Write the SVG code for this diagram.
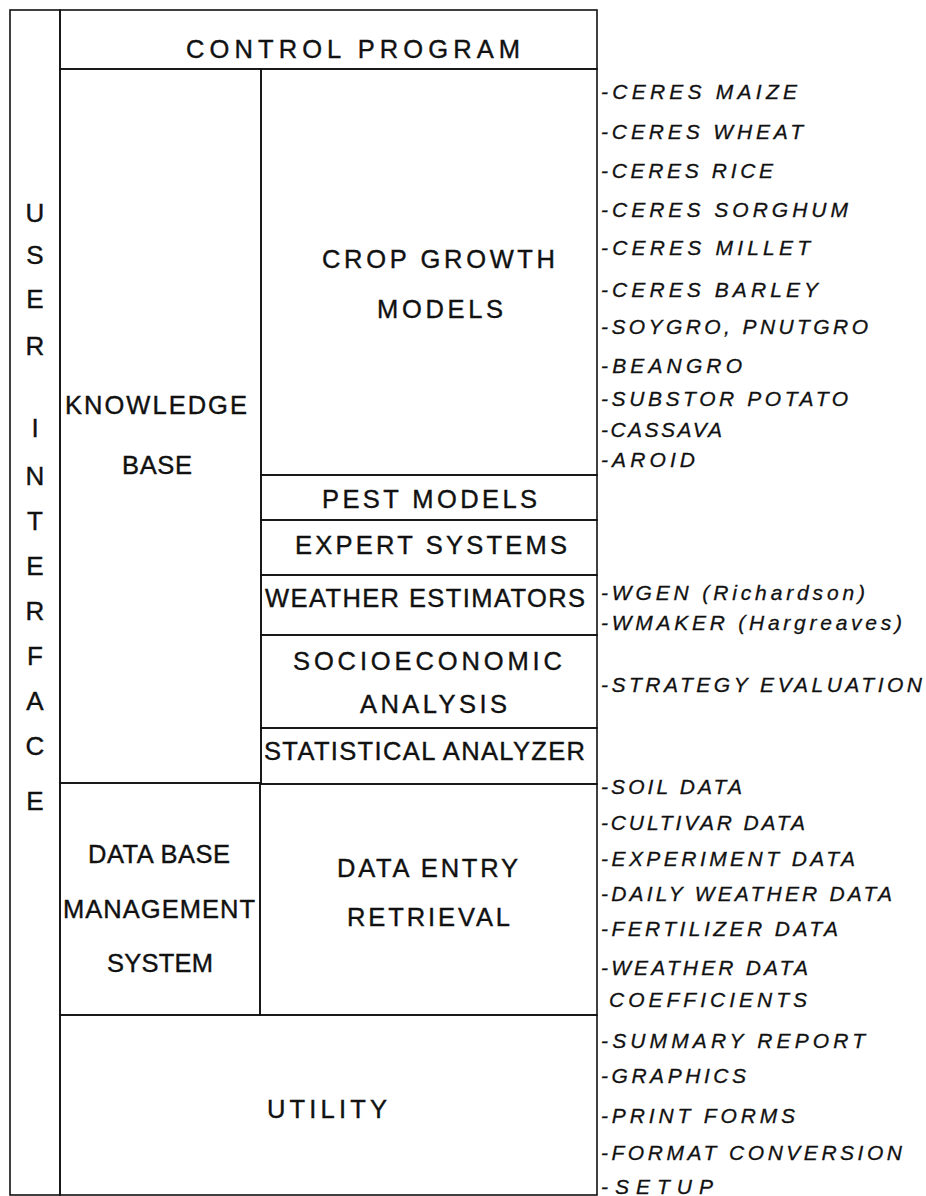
<svg xmlns="http://www.w3.org/2000/svg" width="926" height="1196" viewBox="0 0 926 1196">
<style>
.box{fill:none;stroke:#111;stroke-width:1.6}
.m{font-family:"Liberation Sans",Arial,sans-serif;font-size:25.5px;fill:#111;stroke:#111;stroke-width:0.4}
.ui{font-family:"Liberation Sans",Arial,sans-serif;font-size:26px;fill:#111;stroke:#111;stroke-width:0.4;text-anchor:middle}
.r{font-family:"Liberation Sans",Arial,sans-serif;font-size:21px;font-style:italic;fill:#111;stroke:#111;stroke-width:0.3}
</style>
<rect width="926" height="1196" fill="#fff"/>
<g id="user-interface">
<rect class="box" x="10" y="10" width="50" height="1185"/>
<text class="ui" x="35" y="222">U</text>
<text class="ui" x="35" y="264">S</text>
<text class="ui" x="35" y="308">E</text>
<text class="ui" x="35" y="355">R</text>
<text class="ui" x="35" y="437">I</text>
<text class="ui" x="35" y="485">N</text>
<text class="ui" x="35" y="530">T</text>
<text class="ui" x="35" y="575">E</text>
<text class="ui" x="35" y="620">R</text>
<text class="ui" x="35" y="665">F</text>
<text class="ui" x="35" y="710">A</text>
<text class="ui" x="35" y="755">C</text>
<text class="ui" x="35" y="810">E</text>
</g>
<g id="control-program">
<rect class="box" x="60" y="10" width="537" height="59"/>
<text class="m" x="186" y="58" textLength="334" lengthAdjust="spacing">CONTROL PROGRAM</text>
</g>
<g id="knowledge-base">
<rect class="box" x="60" y="69" width="201" height="714"/>
<text class="m" x="65" y="414" textLength="182" lengthAdjust="spacing">KNOWLEDGE</text>
<text class="m" x="122" y="474" textLength="70" lengthAdjust="spacing">BASE</text>
</g>
<g id="crop-growth-models">
<rect class="box" x="261" y="69" width="336" height="406"/>
<text class="m" x="322" y="268" textLength="233" lengthAdjust="spacing">CROP GROWTH</text>
<text class="m" x="377" y="318" textLength="126" lengthAdjust="spacing">MODELS</text>
<text class="r" x="601" y="99" textLength="196" lengthAdjust="spacing">-CERES MAIZE</text>
<text class="r" x="601" y="139" textLength="202" lengthAdjust="spacing">-CERES WHEAT</text>
<text class="r" x="601" y="178" textLength="172" lengthAdjust="spacing">-CERES RICE</text>
<text class="r" x="601" y="217" textLength="247" lengthAdjust="spacing">-CERES SORGHUM</text>
<text class="r" x="601" y="255" textLength="209" lengthAdjust="spacing">-CERES MILLET</text>
<text class="r" x="601" y="297" textLength="217" lengthAdjust="spacing">-CERES BARLEY</text>
<text class="r" x="601" y="334" textLength="267" lengthAdjust="spacing">-SOYGRO, PNUTGRO</text>
<text class="r" x="601" y="373" textLength="141" lengthAdjust="spacing">-BEANGRO</text>
<text class="r" x="601" y="406" textLength="247" lengthAdjust="spacing">-SUBSTOR POTATO</text>
<text class="r" x="601" y="437" textLength="121" lengthAdjust="spacing">-CASSAVA</text>
<text class="r" x="601" y="467" textLength="94" lengthAdjust="spacing">-AROID</text>
</g>
<g id="pest-models">
<rect class="box" x="261" y="475" width="336" height="45"/>
<text class="m" x="322" y="508" textLength="215" lengthAdjust="spacing">PEST MODELS</text>
</g>
<g id="expert-systems">
<rect class="box" x="261" y="520" width="336" height="55"/>
<text class="m" x="295" y="554" textLength="272" lengthAdjust="spacing">EXPERT SYSTEMS</text>
</g>
<g id="weather-estimators">
<rect class="box" x="261" y="575" width="336" height="60"/>
<text class="m" x="265" y="607" textLength="320" lengthAdjust="spacing">WEATHER ESTIMATORS</text>
<text class="r" x="601" y="600" textLength="264" lengthAdjust="spacing">-WGEN (Richardson)</text>
<text class="r" x="601" y="630" textLength="301" lengthAdjust="spacing">-WMAKER (Hargreaves)</text>
</g>
<g id="socioeconomic-analysis">
<rect class="box" x="261" y="635" width="336" height="93"/>
<text class="m" x="293" y="670" textLength="269" lengthAdjust="spacing">SOCIOECONOMIC</text>
<text class="m" x="360" y="713" textLength="147" lengthAdjust="spacing">ANALYSIS</text>
<text class="r" x="601" y="692" textLength="321" lengthAdjust="spacing">-STRATEGY EVALUATION</text>
</g>
<g id="statistical-analyzer">
<rect class="box" x="261" y="728" width="336" height="56"/>
<text class="m" x="264" y="760" textLength="321" lengthAdjust="spacing">STATISTICAL ANALYZER</text>
</g>
<g id="data-base-management-system">
<rect class="box" x="60" y="783" width="200" height="232"/>
<text class="m" x="88" y="863" textLength="142" lengthAdjust="spacing">DATA BASE</text>
<text class="m" x="63" y="918" textLength="192" lengthAdjust="spacing">MANAGEMENT</text>
<text class="m" x="107" y="972" textLength="106" lengthAdjust="spacing">SYSTEM</text>
</g>
<g id="data-entry-retrieval">
<rect class="box" x="260" y="784" width="337" height="231"/>
<text class="m" x="337" y="877" textLength="181" lengthAdjust="spacing">DATA ENTRY</text>
<text class="m" x="347" y="926" textLength="163" lengthAdjust="spacing">RETRIEVAL</text>
<text class="r" x="601" y="794" textLength="141" lengthAdjust="spacing">-SOIL DATA</text>
<text class="r" x="601" y="830" textLength="204" lengthAdjust="spacing">-CULTIVAR DATA</text>
<text class="r" x="601" y="866" textLength="254" lengthAdjust="spacing">-EXPERIMENT DATA</text>
<text class="r" x="601" y="901" textLength="291" lengthAdjust="spacing">-DAILY WEATHER DATA</text>
<text class="r" x="601" y="936" textLength="237" lengthAdjust="spacing">-FERTILIZER DATA</text>
<text class="r" x="601" y="975" textLength="207" lengthAdjust="spacing">-WEATHER DATA</text>
<text class="r" x="609" y="1007" textLength="198" lengthAdjust="spacing">COEFFICIENTS</text>
</g>
<g id="utility">
<rect class="box" x="60" y="1015" width="537" height="180"/>
<text class="m" x="267" y="1118" textLength="120" lengthAdjust="spacing">UTILITY</text>
<text class="r" x="601" y="1048" textLength="264" lengthAdjust="spacing">-SUMMARY REPORT</text>
<text class="r" x="601" y="1083" textLength="145" lengthAdjust="spacing">-GRAPHICS</text>
<text class="r" x="601" y="1123" textLength="194" lengthAdjust="spacing">-PRINT FORMS</text>
<text class="r" x="601" y="1160" textLength="301" lengthAdjust="spacing">-FORMAT CONVERSION</text>
<text class="r" x="601" y="1194" textLength="112" lengthAdjust="spacing">-SETUP</text>
</g>
<g id="connectors"/>
</svg>
